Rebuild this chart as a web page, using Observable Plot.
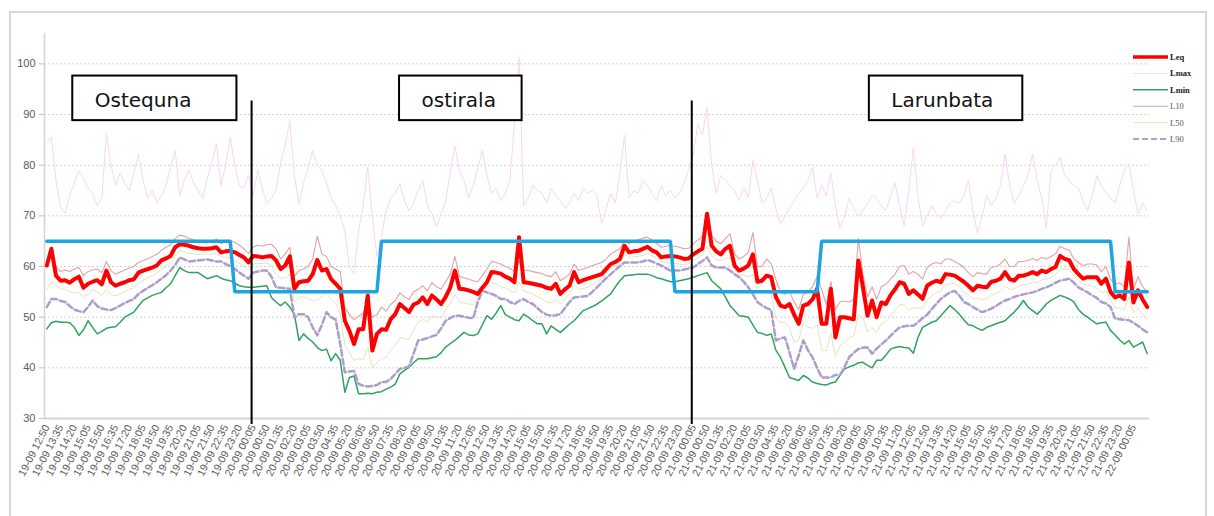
<!DOCTYPE html>
<html><head><meta charset="utf-8">
<script src="https://cdn.jsdelivr.net/npm/d3@7"></script>
<script src="https://cdn.jsdelivr.net/npm/@observablehq/plot@0.6"></script>
<style>
body{margin:0;background:#fff;}
#wrap{position:relative;width:1214px;height:516px;overflow:hidden;background:#fff;}
#frame{position:absolute;left:9px;top:11px;width:1198px;height:530px;border:2px solid #d6d6d6;box-sizing:border-box;}
#chart{position:absolute;left:0;top:0;}
#legend{position:absolute;left:1125px;top:48px;font-family:"Liberation Serif","DejaVu Serif",serif;}
</style></head><body>
<div id="wrap"><div id="frame"></div><div id="chart"></div>
<svg id="legend" width="89" height="100"></svg></div>
<script>
// 15-minute samples starting 19-09 12:50
const startTime = "2000-09-19T12:50:00Z";
const stepMinutes = 15;
const labelEvery = 3;     // one category label every 45 minutes
const labelCount = 80;    // 19-09 12:50 ... 22-09 00:05

const Leq = [
60.2,63.5,58.2,57.2,57.3,56.8,57.5,58.0,55.8,56.6,
57.0,57.3,56.5,59.2,56.9,56.2,56.6,56.9,57.3,57.5,
58.8,59.2,59.5,59.8,60.2,61.2,61.6,62.1,63.8,64.4,
64.3,64.1,63.8,63.6,63.5,63.5,63.6,63.8,62.8,63.0,
63.1,62.8,62.3,61.8,60.8,62.1,62.0,61.8,62.0,62.1,
61.2,59.5,60.2,62.0,55.6,56.9,57.1,57.2,58.5,61.3,
59.2,59.5,57.5,56.6,55.6,49.3,47.3,44.7,47.6,47.6,
54.3,43.4,46.7,47.6,47.5,49.6,50.6,52.6,51.8,51.0,
52.5,52.9,53.9,52.6,54.3,53.5,52.6,54.0,55.9,59.2,
55.6,55.5,55.3,55.0,54.6,55.8,56.9,58.9,58.8,58.6,
58.0,57.6,56.9,65.8,56.9,56.8,56.6,56.4,56.2,55.8,
55.6,56.6,54.6,55.5,56.2,58.9,56.9,57.3,57.6,57.9,
58.2,58.5,59.5,60.5,60.9,61.5,64.1,62.8,63.0,63.1,
63.5,63.9,63.2,62.8,61.8,62.0,62.1,62.0,61.8,61.5,
61.6,62.4,63.0,63.5,70.4,64.1,63.0,62.4,63.5,64.1,
60.2,59.2,59.6,60.2,62.4,57.0,57.2,58.2,57.9,54.0,
52.3,52.0,52.6,50.5,48.7,52.3,52.6,53.5,55.6,48.7,
48.7,55.6,46.0,50.0,50.0,49.8,49.6,61.2,55.9,50.3,
53.3,50.0,52.9,52.6,54.3,55.5,56.9,56.6,54.6,55.3,
54.5,53.6,56.2,56.8,57.2,56.9,58.5,58.4,58.2,57.6,
57.0,56.2,55.3,56.2,56.0,55.9,57.0,57.2,57.6,58.9,
57.5,57.2,58.2,58.2,58.5,58.9,58.5,59.2,58.9,59.5,
59.9,62.1,61.5,61.2,59.5,58.5,57.6,57.9,57.9,57.9,
56.6,57.6,55.0,53.9,54.3,53.6,60.8,52.9,55.3,53.5,52.0];

const Lmax = [
84.5,85.6,77.0,71.7,70.5,74.0,76.5,78.9,77.5,75.5,
74.5,72.0,73.5,86.2,80.0,76.0,78.5,76.5,75.0,78.5,
82.2,77.0,73.5,75.0,72.5,74.0,76.0,79.5,82.9,74.0,
77.0,79.0,76.5,75.0,73.5,77.5,80.5,84.2,76.0,80.0,
85.5,80.0,76.0,75.5,78.0,74.0,79.0,75.5,72.4,73.5,
75.0,80.5,84.0,88.8,78.0,72.4,76.5,79.5,82.9,80.0,
79.0,76.5,73.5,72.0,70.0,67.0,60.0,58.5,67.0,72.0,
79.6,70.0,62.0,66.0,71.0,73.5,74.5,76.3,73.0,71.0,
72.5,75.0,77.0,72.0,70.5,67.8,70.5,73.0,78.5,83.8,
79.0,77.0,73.5,76.0,79.5,82.9,78.0,74.5,75.5,73.0,
74.5,77.0,88.0,101.3,72.0,73.5,76.0,75.0,74.5,72.5,
75.5,74.0,73.0,71.5,72.5,74.5,73.0,75.5,74.5,75.0,
74.0,68.5,71.5,74.5,72.5,78.5,85.9,73.5,75.0,74.5,
77.0,76.0,74.5,73.0,76.0,74.0,75.0,73.5,74.5,76.5,
79.0,82.0,88.1,86.0,91.4,80.0,74.5,78.0,77.0,76.0,
75.0,73.0,75.6,73.5,80.9,77.0,72.5,73.5,75.5,71.5,
68.4,70.0,71.5,73.0,74.5,75.5,77.0,79.6,73.5,76.0,
74.0,78.5,72.0,67.5,70.0,73.5,71.5,70.0,71.0,72.5,
74.0,73.5,72.0,71.0,74.0,76.5,72.0,68.0,75.0,83.5,
74.0,68.0,70.0,72.0,70.5,69.5,71.0,72.5,73.0,72.5,
74.0,77.0,71.0,66.5,70.0,74.0,72.0,73.5,76.0,82.2,
76.0,72.5,74.0,76.0,78.0,82.2,77.0,73.5,67.5,79.0,
80.0,81.5,78.0,77.0,76.0,75.5,73.0,71.0,74.0,78.0,
76.0,74.5,73.5,72.5,76.0,79.0,80.2,75.0,70.4,72.5,71.0];

const Lmin = [
47.7,48.9,49.2,49.0,49.0,48.9,48.0,46.4,47.5,49.3,
48.0,46.7,47.2,47.8,48.0,48.1,49.0,50.0,50.5,51.0,
52.2,53.3,53.8,54.3,54.6,54.9,55.8,56.6,58.2,59.8,
59.2,58.8,58.8,58.8,58.2,57.6,57.9,58.2,57.7,57.4,
57.2,56.7,56.2,56.0,55.9,55.9,56.0,56.1,56.2,53.9,
53.0,52.3,53.0,52.0,50.6,45.4,46.7,45.8,45.1,44.0,
43.4,43.7,41.4,42.8,41.5,35.2,38.1,38.4,34.9,34.9,
35.0,34.9,35.2,35.3,35.8,36.2,36.8,38.8,39.5,40.1,
41.0,41.8,41.8,41.8,42.0,42.2,43.0,44.1,44.8,45.4,
46.2,47.0,46.5,46.4,46.7,48.5,50.3,49.6,50.8,52.3,
50.5,50.0,49.5,49.3,50.6,50.0,49.3,48.7,48.7,46.7,
48.3,47.6,47.0,47.8,48.6,49.3,50.3,51.3,51.7,52.1,
52.6,53.2,53.9,54.6,56.0,57.2,58.2,58.3,58.4,58.5,
58.5,58.5,58.2,57.8,57.6,57.3,57.0,57.0,57.2,57.4,
57.6,57.9,58.2,58.5,58.8,57.2,56.4,55.6,54.0,52.3,
51.3,50.3,50.2,50.0,48.5,47.0,46.8,46.4,46.7,43.5,
42.1,40.1,38.1,37.8,37.5,38.5,38.0,37.2,36.9,36.7,
36.6,37.0,37.2,38.5,39.8,40.2,40.5,41.0,41.1,40.5,
40.0,41.5,41.5,42.5,43.7,44.0,44.2,44.0,43.9,42.9,
46.0,48.0,48.5,49.0,49.3,50.3,51.3,52.3,51.5,50.6,
49.5,48.5,48.3,47.8,47.4,48.0,48.3,48.7,49.0,49.3,
50.2,51.0,52.0,53.3,52.0,51.3,50.6,51.5,52.6,53.3,
53.8,54.3,54.0,53.6,53.0,51.5,50.6,50.0,49.3,48.7,
48.9,49.0,47.4,46.5,45.5,44.7,45.4,44.1,44.6,45.1,42.8];

const L10 = [
60.8,62.1,60.0,59.0,59.3,59.0,59.5,59.8,58.2,59.0,
59.3,59.5,58.8,61.0,59.2,58.5,58.9,59.3,59.7,60.0,
60.8,61.2,61.5,62.0,62.4,63.2,63.8,64.3,65.5,66.2,
66.0,65.6,65.3,65.0,64.8,64.9,65.0,65.4,64.5,65.0,
65.2,64.8,64.2,63.5,62.6,63.8,64.2,64.0,64.3,64.4,
63.5,61.5,62.5,63.8,58.0,59.2,59.5,60.0,61.5,66.0,
62.5,62.0,60.0,59.5,59.0,52.0,50.5,49.5,50.2,50.8,
52.5,50.0,50.5,52.0,51.2,52.5,53.3,54.8,54.0,53.5,
55.0,55.5,56.2,55.2,56.8,56.0,55.5,57.0,58.5,62.0,
58.0,57.8,57.5,57.2,57.0,58.2,59.5,61.0,60.8,60.5,
60.0,59.6,59.0,61.0,59.3,59.2,59.0,58.8,58.6,58.2,
58.0,59.0,57.2,57.8,58.5,60.5,59.2,59.5,59.8,60.2,
60.5,60.8,61.5,62.5,63.0,63.5,65.0,64.5,65.0,65.3,
65.6,65.8,65.2,64.6,63.8,64.0,64.2,64.0,63.8,63.5,
63.6,64.5,65.2,66.0,69.5,66.2,65.0,64.5,65.5,66.5,
62.5,61.5,62.0,62.8,66.7,60.0,60.0,61.5,60.5,57.5,
55.0,54.5,55.0,53.0,51.5,54.5,55.0,56.0,58.0,55.5,
52.5,57.0,51.5,53.0,53.2,53.0,53.5,65.5,58.5,54.0,
56.0,53.5,56.0,56.5,57.5,58.5,60.0,60.2,58.5,59.0,
58.5,57.5,59.8,60.5,60.8,60.5,61.5,61.5,61.0,60.5,
59.8,58.8,58.0,58.8,58.6,58.5,59.8,60.0,60.5,61.5,
60.0,60.0,61.0,61.0,61.2,61.6,61.2,61.8,61.5,62.0,
62.5,64.0,63.5,63.2,61.5,60.8,60.2,60.5,60.5,60.3,
59.0,60.0,57.5,56.5,56.8,56.0,65.8,55.5,58.0,56.0,55.0];

const L50 = [
55.5,57.0,56.2,55.6,55.5,55.0,54.8,54.8,54.0,54.6,
55.5,55.0,54.3,55.5,54.5,54.2,54.6,55.0,55.5,55.8,
56.8,57.3,57.8,58.2,58.7,59.5,60.0,60.8,62.0,63.2,
63.0,62.6,62.5,62.4,62.4,62.5,62.5,62.5,62.0,61.8,
61.7,61.2,60.6,60.0,59.3,60.5,60.6,60.6,60.7,60.2,
58.5,57.6,57.8,58.5,53.0,53.8,54.0,53.8,53.2,53.5,
54.0,55.0,53.5,52.8,50.5,44.5,43.0,41.5,41.8,41.6,
44.0,40.0,41.0,41.8,42.0,43.5,44.5,46.0,45.8,45.6,
47.5,49.0,49.6,49.0,50.2,50.0,50.0,51.5,52.8,54.5,
53.0,52.8,52.6,52.4,53.8,55.5,55.8,56.8,56.5,56.0,
55.8,55.3,54.8,57.0,55.2,54.9,54.6,54.1,53.6,53.0,
52.9,53.5,52.6,53.6,54.6,56.4,55.5,55.7,55.9,56.5,
57.0,57.6,58.6,59.5,60.1,60.8,62.5,61.8,61.9,62.0,
62.2,62.6,62.1,61.7,61.0,60.8,60.6,60.6,60.5,60.4,
60.6,61.1,61.7,62.3,64.0,62.2,61.4,61.1,61.6,61.7,
59.4,58.5,58.3,58.0,58.4,55.0,54.8,55.0,54.6,49.8,
49.0,49.0,47.8,45.0,45.6,48.8,48.0,47.8,48.5,43.5,
43.4,46.8,42.3,44.3,45.1,46.0,46.3,50.5,50.0,47.1,
48.0,46.9,48.7,49.0,50.3,51.3,52.5,52.4,51.5,51.8,
51.8,51.7,53.3,54.2,54.9,55.2,56.4,56.6,56.7,56.0,
55.0,54.4,53.6,53.8,53.5,53.6,54.3,54.7,55.2,56.1,
55.5,55.6,56.2,56.3,56.6,56.9,56.8,57.4,57.4,57.9,
58.4,59.6,59.5,59.4,58.2,57.2,56.5,56.4,56.1,55.8,
54.8,55.1,53.5,51.8,51.9,51.5,54.0,50.9,51.8,50.6,49.5];

const L90 = [
52.0,53.6,53.6,53.2,53.0,52.2,51.5,51.2,51.0,52.0,
53.3,52.2,51.7,51.5,51.4,51.8,52.3,52.8,53.2,53.6,
54.6,55.2,55.8,56.3,56.9,57.6,58.3,59.2,60.3,61.8,
61.4,61.0,61.1,61.2,61.3,61.4,61.2,61.0,61.0,60.5,
60.1,59.5,58.8,58.2,57.6,58.8,59.0,59.2,59.2,58.0,
55.9,55.8,55.7,55.6,50.0,50.6,50.6,50.0,48.0,46.4,
48.5,51.0,50.0,49.5,44.7,39.1,39.3,39.4,36.8,36.5,
36.3,36.4,36.6,37.2,37.2,37.8,38.8,39.8,40.0,40.3,
42.8,45.4,45.6,45.9,46.2,46.5,47.8,49.3,49.8,50.3,
50.3,50.1,49.9,49.8,53.0,55.2,54.9,54.6,54.2,53.6,
53.6,53.0,52.6,53.2,53.6,53.0,52.6,51.8,51.0,50.5,
50.3,50.4,50.6,51.8,53.0,53.9,54.0,54.1,54.2,55.0,
55.9,56.8,57.7,58.5,59.3,60.1,60.8,60.8,60.8,60.8,
61.0,61.3,61.0,60.6,60.2,59.7,59.2,59.2,59.2,59.4,
59.6,59.8,60.5,61.1,61.8,60.2,59.8,59.8,59.8,59.2,
58.5,57.9,57.0,55.9,54.5,53.0,52.3,51.8,51.4,45.4,
45.8,46.0,43.0,39.8,42.5,45.4,43.5,42.1,40.0,38.1,
38.1,38.1,38.6,38.6,40.2,42.1,43.0,43.7,44.0,44.0,
42.8,43.8,44.6,45.4,46.3,47.2,48.0,48.2,48.3,48.3,
49.0,49.8,50.5,51.6,52.6,53.6,54.3,54.9,55.2,54.3,
53.0,52.6,52.0,51.5,51.0,51.3,51.7,52.2,52.8,53.3,
53.6,54.0,54.3,54.5,54.7,54.9,55.2,55.6,55.9,56.3,
56.8,57.2,57.4,57.6,56.8,55.9,55.4,54.9,54.3,53.8,
53.0,52.7,52.0,49.7,49.6,49.5,49.4,48.9,48.3,47.6,47.0];

// limit line as runs of [count, level]
const limitRuns = [[41,65],[32,55],[64,65],[32,55],[64,65],[8,55]];

const yTicks = [30,40,50,60,70,80,90,100];
const dayBreaks = ["2000-09-20T00:00:00Z","2000-09-21T00:00:00Z"];
const dayNames = ["Ostequna","ostirala","Larunbata"];
const dayBoxFrom = ["2000-09-19T14:15:00Z","2000-09-20T08:04:00Z","2000-09-21T09:41:00Z"];
const dayBoxTo   = ["2000-09-19T23:12:00Z","2000-09-20T14:45:00Z","2000-09-21T18:03:00Z"];
const dayBoxLevels = [88.8, 97.6];

const seriesStyle = [
  {name:"Lmax", color:"#f7d6f3", width:1},
  {name:"L50",  color:"#e6e3bd", width:1},
  {name:"L10",  color:"#dea3a3", width:1.1},
  {name:"Lmin", color:"#2fa25e", width:1.5},
  {name:"L90",  color:"#ab9ecc", width:2.5, dash:"6,3"},
  {name:"Leq",  color:"#ff0000", width:4}
];
const legendOrder = ["Leq","Lmax","Lmin","L10","L50","L90"];
const seriesData = {Leq, Lmax, Lmin, L10, L50, L90};

// ---- build
const t0 = new Date(startTime);
const n = Leq.length;
const fmt = d3.utcFormat("%d-%m %H:%M");
const idxOf = s => (new Date(s) - t0) / (stepMinutes * 60000);
const timeLabels = d3.range(n).map(i => fmt(new Date(+t0 + i * stepMinutes * 60000)));
const tickIdx = d3.range(labelCount).map(k => k * labelEvery);
const limit = limitRuns.flatMap(([c, v]) => Array(c).fill(v));
const limitRows = limit.map((v, i) => ({i, v}));

const boxes = dayNames.map((name, k) => ({name, x1: idxOf(dayBoxFrom[k]), x2: idxOf(dayBoxTo[k]), y1: dayBoxLevels[0], y2: dayBoxLevels[1]}));
const breaks = dayBreaks.map(idxOf);

const marks = [
  Plot.gridY(yTicks.slice(1), {stroke:"#d2d2d2", strokeOpacity:1, strokeDasharray:"2,2"}),
  Plot.ruleX([-0.5], {y1: 30, y2: 106, stroke:"#d4d4d4", strokeWidth:1.5}),
  Plot.ruleY([30], {x1: -0.5, x2: n - 0.5, stroke:"#d4d4d4", strokeWidth:2}),
  Plot.axisY(yTicks, {tickSize:5, tickPadding:4, stroke:"#bfbfbf", fill:"#595959", fontSize:11, label:null}),
  Plot.axisX(tickIdx, {tickSize:0, tickPadding:7, tickRotate:-63, fontSize:10.5, fill:"#595959", tickFormat: i => timeLabels[i], label:null})
];
for (const s of seriesStyle) {
  if (s.name === "Leq") continue;
  const rows = seriesData[s.name].map((v, i) => ({i, v}));
  marks.push(Plot.line(rows, {x:"i", y:"v", stroke:s.color, strokeWidth:s.width, strokeDasharray:s.dash, strokeLinejoin:"round"}));
}
marks.push(Plot.line(Leq.map((v, i) => ({i, v})), {x:"i", y:"v", stroke:"#ff0000", strokeWidth:4, strokeLinejoin:"round"}));
marks.push(Plot.line(limitRows, {x:"i", y:"v", stroke:"#1ca5df", strokeWidth:3.5, strokeLinejoin:"miter"}));
marks.push(Plot.ruleX(breaks, {y1: 28.8, y2: 92.7, stroke:"#000", strokeWidth:2}));
marks.push(Plot.rect(boxes, {x1:"x1", x2:"x2", y1:"y1", y2:"y2", fill:"#fff", stroke:"#000", strokeWidth:2}));
marks.push(Plot.text(boxes, {x:"x1", y: d => (d.y1 + d.y2) / 2, text:"name", textAnchor:"start", dx:22, dy:2, fontSize:20, fill:"#111", fontFamily:"DejaVu Sans"}));

const chart = Plot.plot({
  width: 1214, height: 516,
  marginLeft: 44, marginRight: 65, marginTop: 33, marginBottom: 98,
  x: {domain: [-0.5, n - 0.5], axis: null},
  y: {domain: [30, 106], axis: null},
  style: {fontFamily: "Liberation Sans, Arial, sans-serif", background: "transparent"},
  marks
});
document.getElementById("chart").appendChild(chart);

// legend
const lg = d3.select("#legend");
legendOrder.forEach((name, k) => {
  const s = seriesStyle.find(d => d.name === name);
  const y = 9 + k * 16.4;
  lg.append("line").attr("x1", 8).attr("x2", 43).attr("y1", y).attr("y2", y)
    .attr("stroke", s.color).attr("stroke-width", name === "Leq" ? 3.5 : (name === "L90" ? 2 : s.width))
    .attr("stroke-dasharray", s.dash || null);
  lg.append("text").attr("x", 45).attr("y", y + 3).attr("font-size", 8.5)
    .attr("fill", k < 3 ? "#222" : "#555").attr("font-weight", k < 3 ? "bold" : "normal").text(name);
});
</script>
</body></html>
